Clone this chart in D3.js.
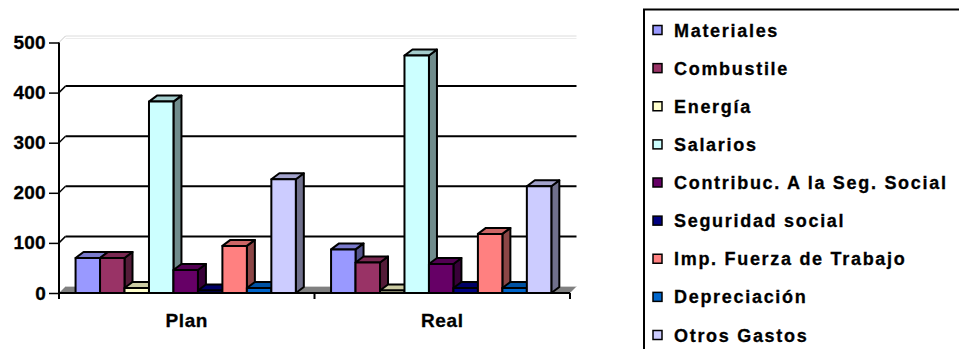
<!DOCTYPE html>
<html>
<head>
<meta charset="utf-8">
<script src="https://cdn.jsdelivr.net/npm/d3@7"></script>
<style>
  body { margin: 0; background: #fff; }
  svg { display: block; }
  text { font-family: "Liberation Sans", Arial, sans-serif; font-weight: bold; fill: #000; }
</style>
</head>
<body>
<div id="chart"></div>
<script>
// Daten
const categories = ["Plan", "Real"];
const seriesNames = ["Materiales", "Combustile", "Energía", "Salarios",
    "Contribuc. A la Seg. Social", "Seguridad social", "Imp. Fuerza de Trabajo",
    "Depreciación", "Otros Gastos"];
const seriesColors = ["#9999FF", "#993366", "#FFFFCC", "#CCFFFF", "#660066",
    "#000080", "#FF8080", "#0066CC", "#CCCCFF"];
const planValues = [70, 70, 10, 382, 46, 5, 94, 10, 227];
const realValues = [87, 61, 5, 474, 58, 10, 118, 10, 213];
const yTicks = [0, 100, 200, 300, 400, 500];

const W = 959, H = 349;
const svg = d3.select("#chart").append("svg")
    .attr("width", W)
    .attr("height", H);

// Skalen
const y = d3.scaleLinear().domain([0, 500]).range([293, 42.5]);
const x0 = d3.scaleBand().domain(categories).range([59, 570]);
const x1 = d3.scaleBand().domain(seriesNames)
    .range([0, x0.bandwidth()])
    .paddingOuter(0.72)
    .align(0.47);

// Tiefe der Rückwand und der Säulen
const wallDx = 6.5, wallDy = -6.5;
const barDx = 8, barDy = -6;

const plot = svg.append("g");

// Rückwand oben (hellgrau)
plot.append("line")
    .attr("x1", x0.range()[0] + wallDx).attr("x2", x0.range()[1] + wallDx)
    .attr("y1", y(500) + wallDy).attr("y2", y(500) + wallDy)
    .attr("stroke", "#dcdcdc").attr("stroke-width", 1);
plot.append("line")
    .attr("x1", x0.range()[0] + wallDx).attr("x2", x0.range()[1] + wallDx)
    .attr("y1", y(500) + wallDy + 2.5).attr("y2", y(500) + wallDy + 2.5)
    .attr("stroke", "#ececec").attr("stroke-width", 1);
plot.append("line")
    .attr("x1", x0.range()[0]).attr("y1", y(500))
    .attr("x2", x0.range()[0] + wallDx).attr("y2", y(500) + wallDy)
    .attr("stroke", "#c8c8c8").attr("stroke-width", 1);

// Boden
const x0L = x0.range()[0], x0R = x0.range()[1];
plot.append("polygon")
    .attr("points", [
        [x0L, y(0)], [x0R, y(0)],
        [x0R + wallDx, y(0) + wallDy], [x0L + wallDx, y(0) + wallDy]
    ].map(p => p.join(",")).join(" "))
    .attr("fill", "#808080");
plot.append("line")
    .attr("x1", x0L + wallDx).attr("x2", x0R + wallDx)
    .attr("y1", y(0) + wallDy).attr("y2", y(0) + wallDy)
    .attr("stroke", "#d0d0d0").attr("stroke-width", 1);

// Gitterlinien an der Rückwand
yTicks.filter(t => t > 0 && t < 500).forEach(t => {
    plot.append("line")
        .attr("x1", x0L + wallDx).attr("x2", x0R + wallDx)
        .attr("y1", y(t) + wallDy).attr("y2", y(t) + wallDy)
        .attr("stroke", "#000").attr("stroke-width", 2);
    plot.append("line")
        .attr("x1", x0L).attr("y1", y(t))
        .attr("x2", x0L + wallDx).attr("y2", y(t) + wallDy)
        .attr("stroke", "#000").attr("stroke-width", 1.5);
});

// Säulen (3D)
const shade = (c, f) => {
    const col = d3.rgb(c);
    return d3.rgb(col.r * f, col.g * f, col.b * f).toString();
};
const valuesByCat = { Plan: planValues, Real: realValues };

categories.forEach(cat => {
    seriesNames.forEach((name, i) => {
        const v = valuesByCat[cat][i];
        const xl = x0(cat) + x1(name);
        const xr = xl + x1.bandwidth();
        const yt = y(v), yb = y(0);
        const g = plot.append("g")
            .attr("stroke", "#000")
            .attr("stroke-width", 2)
            .attr("stroke-linejoin", "round");
        // Seite
        g.append("polygon")
            .attr("points", [[xr, yb], [xr + barDx, yb + barDy], [xr + barDx, yt + barDy], [xr, yt]]
                .map(p => p.join(",")).join(" "))
            .attr("fill", shade(seriesColors[i], 0.55));
        // Oberseite
        g.append("polygon")
            .attr("points", [[xl, yt], [xr, yt], [xr + barDx, yt + barDy], [xl + barDx, yt + barDy]]
                .map(p => p.join(",")).join(" "))
            .attr("fill", shade(seriesColors[i], 0.8));
        // Vorderseite
        g.append("rect")
            .attr("x", xl).attr("y", yt)
            .attr("width", x1.bandwidth()).attr("height", yb - yt)
            .attr("fill", seriesColors[i]);
    });
});

// Achsen
const yAxis = d3.axisLeft(y).tickValues(yTicks).tickSize(10).tickPadding(3);
const yg = svg.append("g")
    .attr("transform", `translate(${x0L},0)`)
    .call(yAxis);
yg.select(".domain").attr("d", `M0,${y(500)}V${y(0)}`).attr("stroke-width", 2);
yg.selectAll(".tick line").attr("stroke-width", 1.5);
yg.selectAll(".tick text")
    .attr("font-size", "19px")
    .attr("font-family", "Liberation Sans, Arial, sans-serif")
    .attr("font-weight", "bold")
    .attr("stroke", "#000").attr("stroke-width", 0.3)
    .style("letter-spacing", "0.3px")
    .attr("fill", "#000");

const xAxis = d3.axisBottom(x0).tickSize(0).tickPadding(0);
const xg = svg.append("g")
    .attr("transform", `translate(0,${y(0)})`)
    .call(xAxis);
xg.select(".domain").attr("d", `M${x0L},0H${x0R}`).attr("stroke-width", 2);
xg.selectAll(".tick text")
    .attr("font-size", "19px")
    .attr("font-family", "Liberation Sans, Arial, sans-serif")
    .attr("font-weight", "bold")
    .attr("stroke", "#000").attr("stroke-width", 0.3)
    .style("letter-spacing", "0.6px")
    .attr("dy", null)
    .attr("y", 34)
    .attr("fill", "#000");
// Kategorie-Trennstriche
[x0L, ...categories.map(c => x0(c) + x0.bandwidth())].forEach(xv => {
    xg.append("line")
        .attr("x1", xv).attr("x2", xv)
        .attr("y1", 0).attr("y2", 6)
        .attr("stroke", "#000").attr("stroke-width", 2);
});

// Legende
const legend = svg.append("g");
legend.append("rect")
    .attr("x", 644).attr("y", 9.5)
    .attr("width", 330).attr("height", 360)
    .attr("fill", "#fff")
    .attr("stroke", "#000").attr("stroke-width", 2);

const ly = d3.scalePoint().domain(seriesNames).range([30, 335]);
seriesNames.forEach((name, i) => {
    legend.append("rect")
        .attr("x", 653).attr("y", ly(name) - 4.5)
        .attr("width", 9).attr("height", 9)
        .attr("fill", seriesColors[i])
        .attr("stroke", "#000").attr("stroke-width", 1.5);
    legend.append("text")
        .attr("x", 674).attr("y", ly(name) + 6.5)
        .attr("font-size", "18px")
        .attr("stroke", "#000").attr("stroke-width", 0.3)
        .style("letter-spacing", "1.7px")
        .text(name);
});
</script>
</body>
</html>
